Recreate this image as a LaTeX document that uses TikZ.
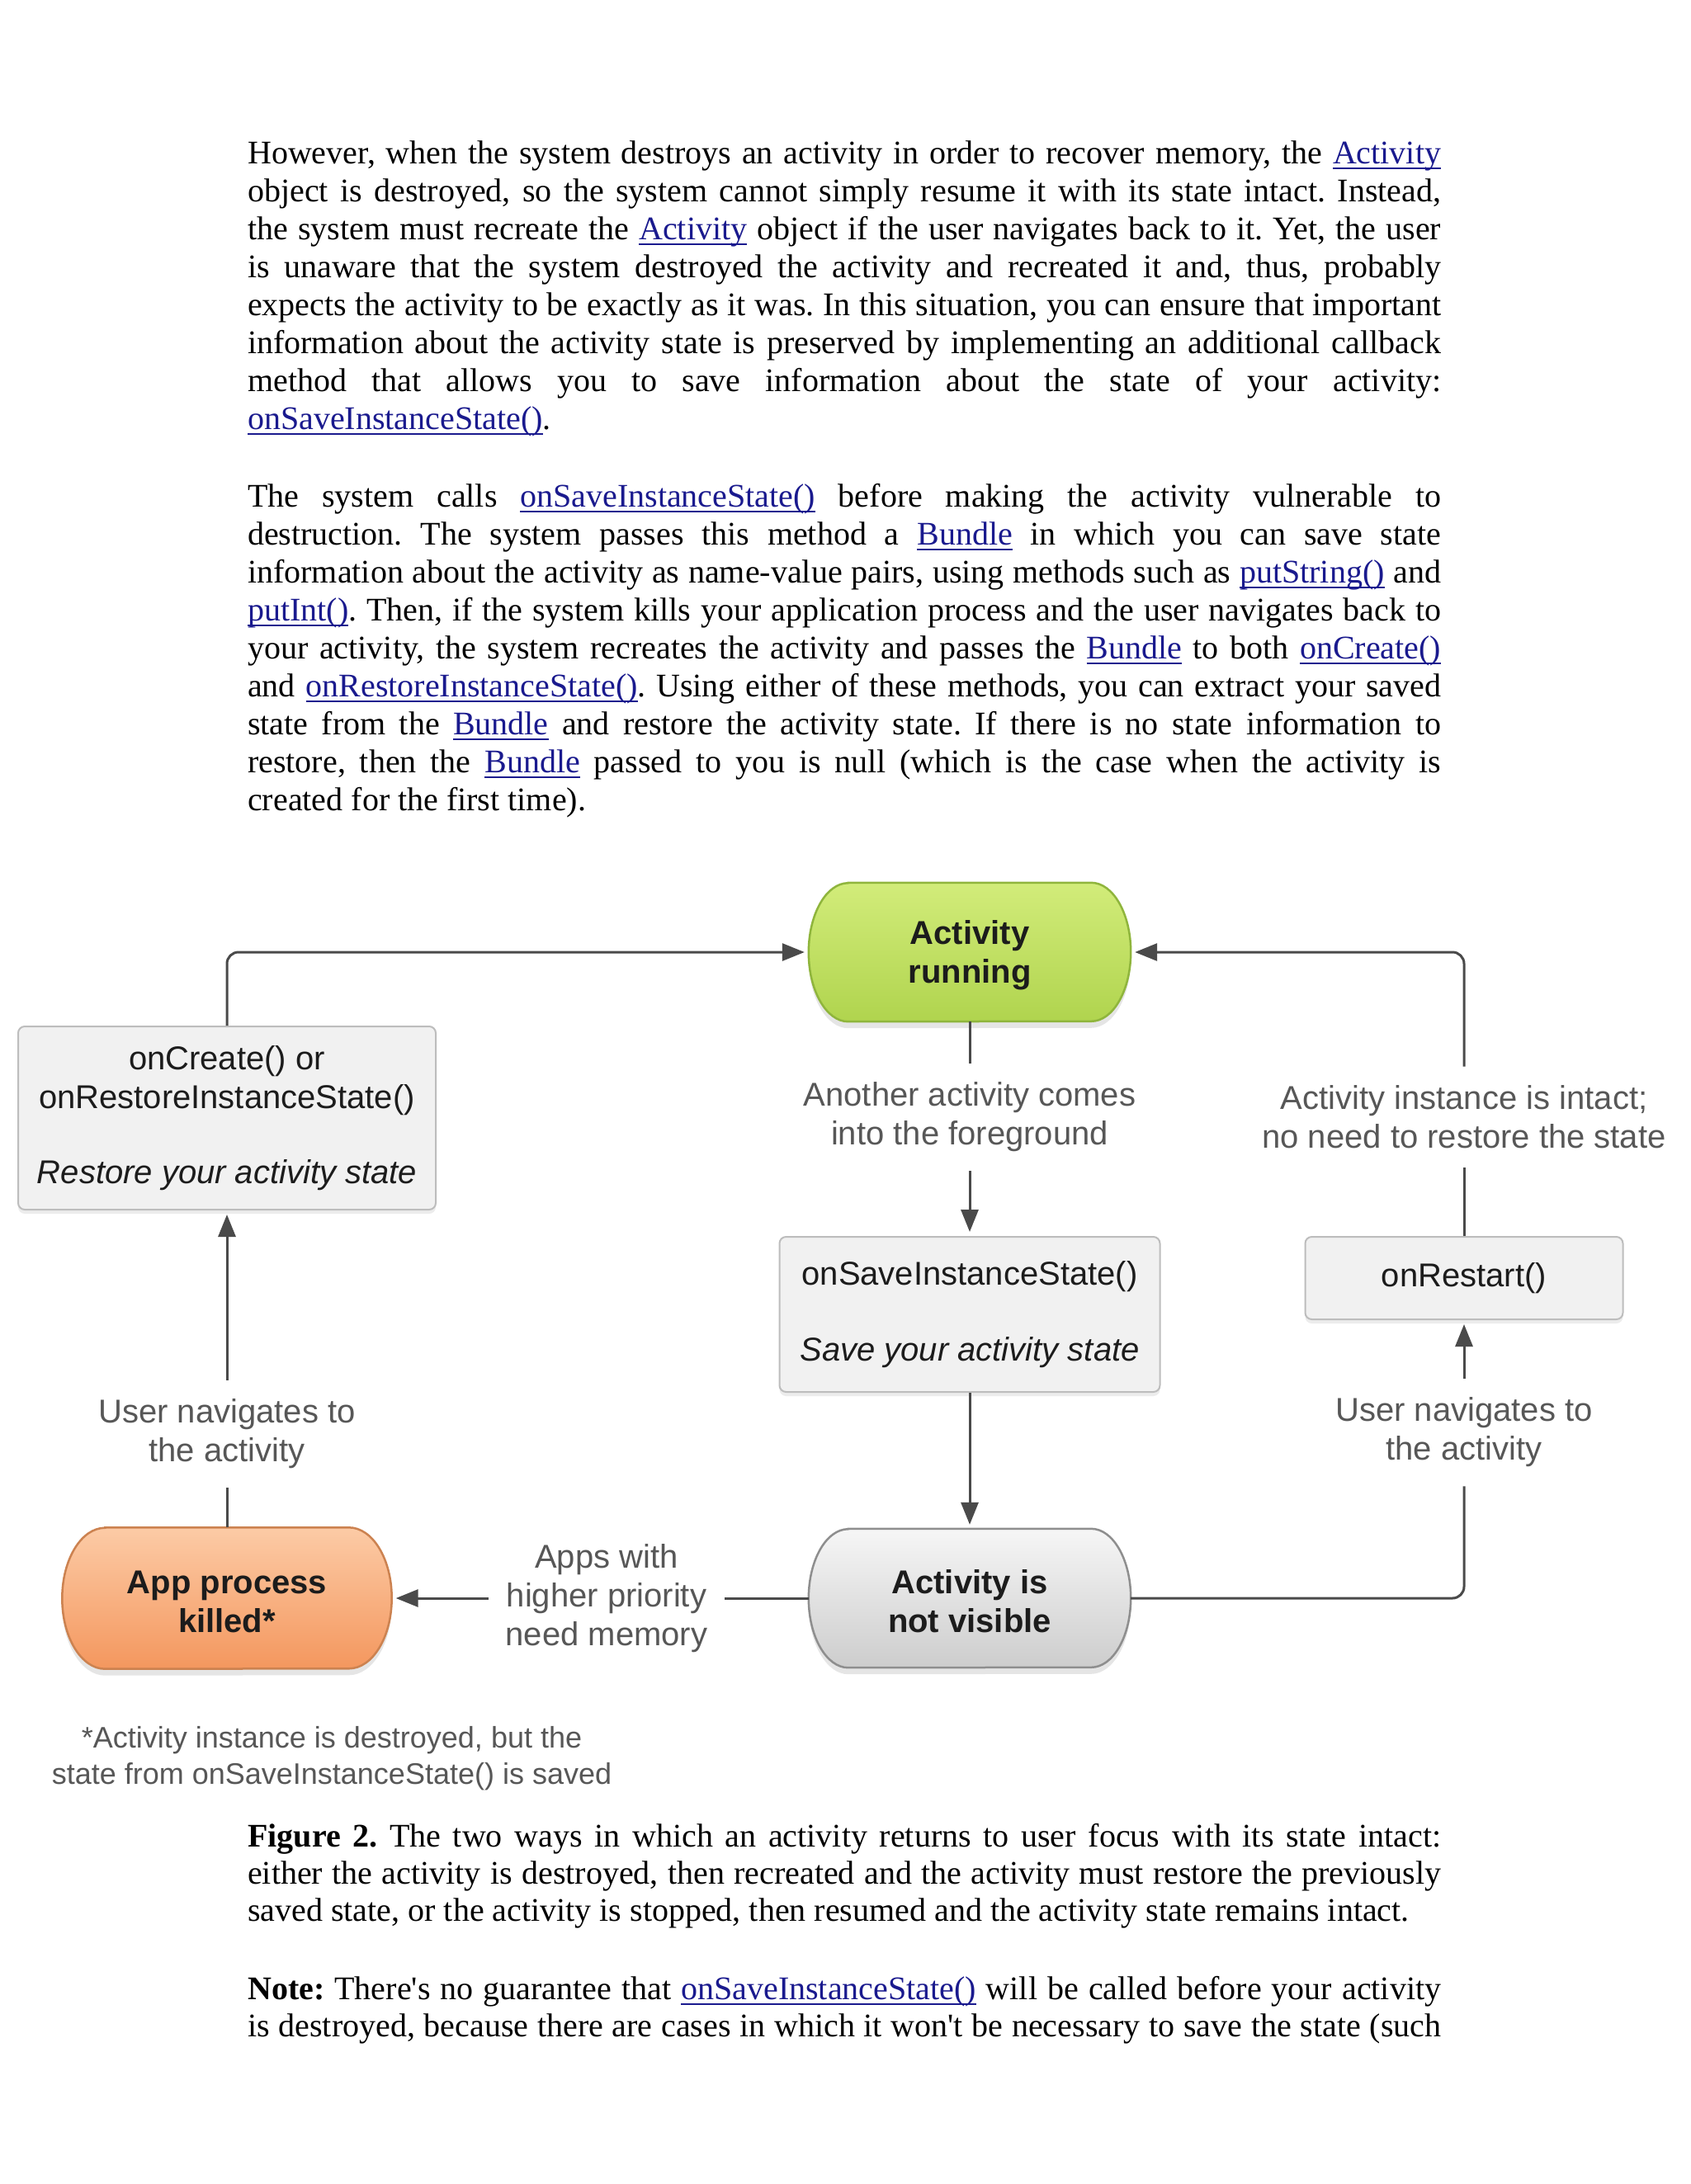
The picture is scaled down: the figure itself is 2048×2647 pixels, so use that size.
\documentclass[tikz,border=0pt]{standalone}
\usepackage{fontspec}
\setmainfont{Liberation Serif}[Ligatures=TeXOff]
\newfontfamily\arial{Liberation Sans}
\usetikzlibrary{arrows.meta,shadows,backgrounds}
\definecolor{linkc}{HTML}{1A1A8E}
\definecolor{connc}{HTML}{4A4A4A}
\definecolor{boxedge}{HTML}{BDBDBD}
\definecolor{boxfill}{HTML}{F1F1F1}
\definecolor{boxtext}{HTML}{1C1C1C}
\definecolor{labc}{HTML}{575757}
\definecolor{gtop}{HTML}{D2EC7A}
\definecolor{gbot}{HTML}{B0D44E}
\definecolor{gedge}{HTML}{8FB53C}
\definecolor{otop}{HTML}{FCCBA6}
\definecolor{obot}{HTML}{F4975E}
\definecolor{oedge}{HTML}{CC8250}
\definecolor{ntop}{HTML}{F6F6F6}
\definecolor{nbot}{HTML}{CDCDCD}
\definecolor{nedge}{HTML}{8E8E8E}
\newcommand\bodyfont{\fontsize{40}{46}\selectfont}
\newcommand\diagfont{\arial\fontsize{40}{47}\selectfont}
\newcommand\footfont{\arial\fontsize{36}{44}\selectfont}
\newcommand\lnk[1]{{\color{linkc}\setbox0=\hbox{#1}\rlap{\rule[-7pt]{\wd0}{2.5pt}}\box0}}
\newcommand\jline[1]{\hbox to 1446pt{#1}}
\newcommand\lastline[1]{\hbox{#1}}
\newcommand\parvbox[1]{\vtop{\bodyfont\frenchspacing\lineskiplimit=-1000pt\lineskip=0pt\baselineskip=46pt #1}}
% state outline: node name, top colour, bottom colour, edge colour, horizontal radius, vertical radius
\newcommand\stateoutline[6]{%
  \path[top color=#2, bottom color=#3, draw=#4, line width=2.5pt,
        drop shadow={shadow xshift=0pt, shadow yshift=-8pt, opacity=0.2}]
    ([xshift=#5pt]#1.north west) -- ([xshift=-#5pt]#1.north east)
    arc[start angle=90, end angle=-90, x radius=#5pt, y radius=#6pt]
    -- ([xshift=#5pt]#1.south west)
    arc[start angle=270, end angle=90, x radius=#5pt, y radius=#6pt]
    -- cycle;}
\begin{document}
\begin{tikzpicture}[x=1pt,y=-1pt,
  conn/.style={draw=connc, line width=3pt, rounded corners=14pt},
  arr/.style={conn, -{Triangle[length=27pt,width=21pt]}, shorten >=5pt},
  procbox/.style={rectangle, rounded corners=8pt, draw=boxedge, line width=2pt, fill=boxfill, align=center, text=boxtext, font=\diagfont, drop shadow={shadow xshift=0pt, shadow yshift=-5pt, opacity=0.15}},
  statebox/.style={rectangle, inner sep=0pt, align=center, text=boxtext, font=\diagfont\bfseries},
  lab/.style={inner xsep=21pt, inner ysep=23pt, align=center, text=labc, font=\diagfont},
]
\useasboundingbox (0,0) rectangle (2048,2647);

% body text
\node[anchor=base west, inner sep=0pt] (p1) at (300,198) {\parvbox{%
\jline{However, when the system destroys an activity in order to recover memory, the \lnk{Activity}}
\jline{object is destroyed, so the system cannot simply resume it with its state intact. Instead,}
\jline{the system must recreate the \lnk{Activity} object if the user navigates back to it. Yet, the user}
\jline{is unaware that the system destroyed the activity and recreated it and, thus, probably}
\jline{expects the activity to be exactly as it was. In this situation, you can ensure that important}
\jline{information about the activity state is preserved by implementing an additional callback}
\jline{method that allows you to save information about the state of your activity:}
\lastline{\lnk{onSaveInstanceState()}.}}};

\node[anchor=base west, inner sep=0pt] (p2) at (300,614) {\parvbox{%
\jline{The system calls \lnk{onSaveInstanceState()} before making the activity vulnerable to}
\jline{destruction. The system passes this method a \lnk{Bundle} in which you can save state}
\jline{information about the activity as name-value pairs, using methods such as \lnk{putString()} and}
\jline{\lnk{putInt()}. Then, if the system kills your application process and the user navigates back to}
\jline{your activity, the system recreates the activity and passes the \lnk{Bundle} to both \lnk{onCreate()}}
\jline{and \lnk{onRestoreInstanceState()}. Using either of these methods, you can extract your saved}
\jline{state from the \lnk{Bundle} and restore the activity state. If there is no state information to}
\jline{restore, then the \lnk{Bundle} passed to you is null (which is the case when the activity is}
\lastline{created for the first time).}}};

\node[anchor=base west, inner sep=0pt] (cap) at (300,2238) {\parvbox{\baselineskip=45pt
\jline{\textbf{Figure 2.} The two ways in which an activity returns to user focus with its state intact:}
\jline{either the activity is destroyed, then recreated and the activity must restore the previously}
\lastline{saved state, or the activity is stopped, then resumed and the activity state remains intact.}}};

\node[anchor=base west, inner sep=0pt] (note) at (300,2423) {\parvbox{\baselineskip=45pt
\jline{\textbf{Note:} There's no guarantee that \lnk{onSaveInstanceState()} will be called before your activity}
\jline{is destroyed, because there are cases in which it won't be necessary to save the state (such}}};

% states
\node[statebox, minimum width=390pt, minimum height=168pt] (running) at (1175,1154) {\rule{0pt}{36pt}Activity\\running};
\node[statebox, minimum width=390pt, minimum height=168pt] (notvis) at (1175,1937) {\rule{0pt}{36pt}Activity is\\not visible};
\node[statebox, minimum width=399pt, minimum height=171pt] (killed) at (275,1937) {\rule{0pt}{36pt}App process\\killed*};

\begin{scope}[on background layer]
\fill[white] (0,0) rectangle (2048,2647);
\stateoutline{running}{gtop}{gbot}{gedge}{48}{84}
\stateoutline{notvis}{ntop}{nbot}{nedge}{48}{84}
\stateoutline{killed}{otop}{obot}{oedge}{52}{85.5}
\end{scope}

% boxes
\node[procbox, minimum width=506pt, minimum height=222pt] (oncreate) at (275,1355) {onCreate() or\\onRestoreInstanceState()\\[44pt]\textit{Restore your activity state}};
\node[procbox, minimum width=461pt, minimum height=188pt] (onsave) at (1175,1593) {onSaveInstanceState()\\[45pt]\textit{Save your activity state}};
\node[procbox, minimum width=385pt, minimum height=100pt] (onrestart) at (1774,1549) {onRestart()};

% labels
\node[lab] (labA) at (1175,1354) {Another activity comes\\into the foreground};
\node[lab] (labR) at (1774,1354) {Activity instance is intact;\\no need to restore the state};
\node[lab] (labU) at (275,1738) {User navigates to\\the activity};
\node[lab] (labU2) at (1774,1736) {User navigates to\\the activity};
\node[lab] (labM) at (735,1937) {Apps with\\higher priority\\need memory};
\node[align=center, text=labc, font=\footfont] (foot) at (402,2131) {*Activity instance is destroyed, but the\\state from onSaveInstanceState() is saved};

% connectors
\draw[arr] (oncreate.north) |- (running.west);
\draw[arr] (labR.north) |- (running.east);
\draw[conn] (onrestart.north) -- (labR.south);
\draw[conn] (running.south) -- (labA.north);
\draw[arr] (labA.south) -- (onsave.north);
\draw[arr] (onsave.south) -- (notvis.north);
\draw[conn] (notvis.west) -- (labM.east);
\draw[arr] (labM.west) -- (killed.east);
\draw[conn] (killed.north) -- (labU.south);
\draw[arr] (labU.north) -- (oncreate.south);
\draw[conn] (notvis.east) -| (labU2.south);
\draw[arr] (labU2.north) -- (onrestart.south);
\end{tikzpicture}
\end{document}
